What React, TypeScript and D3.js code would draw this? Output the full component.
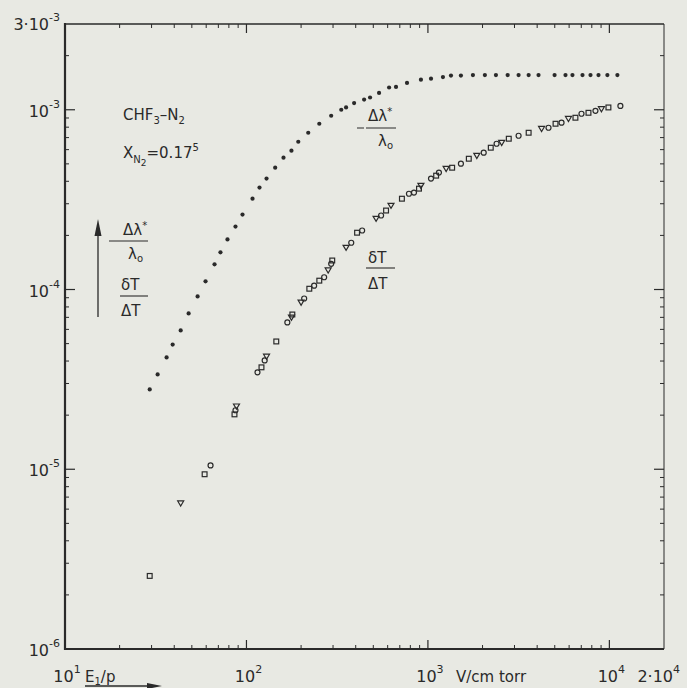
import React from "react";
import * as d3 from "d3";

const W = 687;
const H = 688;

// -Δλ*/λ0 series (filled dots)
const lamX = [29.3, 32.4, 36.3, 39.2, 43.4, 48.0, 53.8, 59.5, 66.7, 71.9, 78.6, 87.0, 95.1, 108, 118, 129, 144, 160, 177, 193, 219, 252, 293, 333, 354, 392, 445, 480, 538, 611, 667, 767, 915, 1040, 1210, 1340, 1520, 1770, 2060, 2370, 2750, 3160, 3590, 4070, 4990, 5730, 6260, 7110, 7870, 8710, 9750, 11070];
const lamY = [2.78e-5, 3.37e-5, 4.19e-5, 4.94e-5, 5.92e-5, 7.36e-5, 9.15e-5, 1.11e-4, 1.38e-4, 1.61e-4, 1.9e-4, 2.24e-4, 2.61e-4, 3.2e-4, 3.69e-4, 4.14e-4, 4.76e-4, 5.41e-4, 5.92e-4, 6.64e-4, 7.45e-4, 8.36e-4, 9.26e-4, 1.0e-3, 1.03e-3, 1.09e-3, 1.14e-3, 1.17e-3, 1.24e-3, 1.33e-3, 1.34e-3, 1.41e-3, 1.47e-3, 1.49e-3, 1.52e-3, 1.55e-3, 1.55e-3, 1.56e-3, 1.56e-3, 1.56e-3, 1.56e-3, 1.56e-3, 1.56e-3, 1.56e-3, 1.56e-3, 1.56e-3, 1.56e-3, 1.56e-3, 1.56e-3, 1.56e-3, 1.56e-3, 1.56e-3];

// δT/ΔT series (open symbols: s square, c circle, t triangle)
const dtX = [29.3, 43.4, 58.8, 63.4, 85.9, 87.0, 88.1, 115, 121, 126, 129, 146, 168, 177, 179, 200, 208, 222, 236, 252, 268, 282, 293, 297, 354, 378, 407, 434, 518, 552, 588, 626, 719, 786, 838, 893, 915, 1040, 1110, 1150, 1260, 1360, 1520, 1680, 1860, 2030, 2220, 2390, 2550, 2790, 3160, 3590, 4230, 4620, 5050, 5450, 5950, 6500, 7020, 7670, 8380, 9040, 9880, 11500];
const dtY = [2.55e-6, 6.47e-6, 9.38e-6, 1.05e-5, 2.02e-5, 2.13e-5, 2.24e-5, 3.46e-5, 3.69e-5, 4.03e-5, 4.24e-5, 5.14e-5, 6.56e-5, 6.99e-5, 7.26e-5, 8.47e-5, 8.91e-5, 1.01e-4, 1.05e-4, 1.12e-4, 1.17e-4, 1.28e-4, 1.39e-4, 1.45e-4, 1.71e-4, 1.82e-4, 2.07e-4, 2.13e-4, 2.48e-4, 2.58e-4, 2.75e-4, 2.93e-4, 3.2e-4, 3.41e-4, 3.46e-4, 3.64e-4, 3.78e-4, 4.14e-4, 4.3e-4, 4.47e-4, 4.7e-4, 4.76e-4, 5.01e-4, 5.34e-4, 5.55e-4, 5.77e-4, 6.15e-4, 6.47e-4, 6.56e-4, 6.9e-4, 7.17e-4, 7.45e-4, 7.84e-4, 7.94e-4, 8.36e-4, 8.47e-4, 8.91e-4, 9.03e-4, 9.5e-4, 9.62e-4, 9.87e-4, 1.01e-3, 1.03e-3, 1.05e-3];
const dtShape = "stscsctcsctsctstcscsctcstcsctcstsccstcsctscstcsctscstcsctscsctsc";

const xMajor = [10, 100, 1000, 10000];
const xMajorExp = ["1", "2", "3", "4"];
const yMajor = [1e-6, 1e-5, 1e-4, 1e-3];
const yMajorExp = ["-6", "-5", "-4", "-3"];

const ink = "#2a2a2a";
const font = "'DejaVu Sans', sans-serif";

const x = d3.scaleLog().domain([10, 2e4]).range([65, 664]);
const y = d3.scaleLog().domain([1e-6, 3e-3]).range([649, 24]);

function minorTicks(lo: number, hi: number) {
  const out: number[] = [];
  for (let d = lo; d < hi; d *= 10) {
    for (let k = 2; k <= 9; k++) if (d * k < hi) out.push(d * k);
  }
  return out;
}

const Marker = ({ cx, cy, s }: { cx: number; cy: number; s: string }) => {
  if (s === "c") return <circle cx={cx} cy={cy} r={2.5} fill="none" stroke={ink} strokeWidth={1.2} />;
  if (s === "t")
    return (
      <path
        d={`M${cx - 3},${cy - 2.3}L${cx + 3},${cy - 2.3}L${cx},${cy + 2.8}Z`}
        fill="none"
        stroke={ink}
        strokeWidth={1.2}
      />
    );
  return <rect x={cx - 2.4} y={cy - 2.4} width={4.8} height={4.8} fill="none" stroke={ink} strokeWidth={1.2} />;
};

export default function App() {
  const [x0, x1] = x.range();
  const [y0, y1] = y.range();
  const xMinor = minorTicks(10, 2e4);
  const yMinor = minorTicks(1e-6, 3e-3);

  return (
    <svg
      width={W}
      height={H}
      style={{ position: "absolute", left: 0, top: 0, background: "#e8e9e3" }}
      fontFamily={font}
      fill={ink}
    >
      <rect width={W} height={H} fill="#e8e9e3" />

      {/* frame */}
      <line x1={x0} x2={x0} y1={y1 - 1} y2={y0 + 1} stroke={ink} strokeWidth={2.2} />
      <line x1={x0} x2={x1} y1={y0} y2={y0} stroke={ink} strokeWidth={1.8} />
      <line x1={x0} x2={x1} y1={y1} y2={y1} stroke={ink} strokeWidth={1.6} />
      <line x1={x1} x2={x1} y1={y1} y2={y0} stroke={ink} strokeWidth={1} />

      {/* x ticks bottom and top */}
      {xMinor.map((v, i) => (
        <g key={"xm" + i} stroke={ink} strokeWidth={1}>
          <line x1={x(v)} x2={x(v)} y1={y0} y2={y0 - 4} />
          <line x1={x(v)} x2={x(v)} y1={y1} y2={y1 + 4} />
        </g>
      ))}
      {xMajor.map((v, i) => (
        <g key={"xM" + i} stroke={ink} strokeWidth={1.2}>
          <line x1={x(v)} x2={x(v)} y1={y0} y2={y0 - 9} />
          <line x1={x(v)} x2={x(v)} y1={y1} y2={y1 + 9} />
        </g>
      ))}

      {/* y ticks left and right */}
      {yMinor.map((v, i) => (
        <g key={"ym" + i} stroke={ink} strokeWidth={1}>
          <line x1={x0} x2={x0 + 4} y1={y(v)} y2={y(v)} />
          <line x1={x1} x2={x1 - 4} y1={y(v)} y2={y(v)} />
        </g>
      ))}
      {yMajor.map((v, i) => (
        <g key={"yM" + i} stroke={ink} strokeWidth={1.2}>
          <line x1={x0} x2={x0 + 10} y1={y(v)} y2={y(v)} />
          <line x1={x1} x2={x1 - 10} y1={y(v)} y2={y(v)} />
        </g>
      ))}

      {/* x tick labels */}
      {xMajor.map((v, i) => (
        <text key={"xl" + i} x={x(v) + 2} y={682} fontSize={16} textAnchor="middle">
          10
          <tspan fontSize={11} dy={-9}>
            {xMajorExp[i]}
          </tspan>
        </text>
      ))}
      <text x={680} y={682} fontSize={16} textAnchor="end">
        2·10
        <tspan fontSize={11} dy={-9}>
          4
        </tspan>
      </text>

      {/* y tick labels */}
      {yMajor.map((v, i) => (
        <text key={"yl" + i} x={60} y={y(v) + 7} fontSize={16} textAnchor="end">
          10
          <tspan fontSize={11} dy={-9}>
            {yMajorExp[i]}
          </tspan>
        </text>
      ))}
      <text x={60} y={y(3e-3) + 6} fontSize={16} textAnchor="end">
        3·10
        <tspan fontSize={11} dy={-9}>
          -3
        </tspan>
      </text>

      {/* axis titles */}
      <text x={85} y={682} fontSize={15}>
        E<tspan fontSize={10} dy={3}>1</tspan>
        <tspan dy={-3}>/p</tspan>
      </text>
      <line x1={85} x2={150} y1={686} y2={686} stroke={ink} strokeWidth={1.3} />
      <path d="M147,683 L162,686 L147,689 Z" fill={ink} />
      <text x={456} y={682} fontSize={15}>
        V/cm torr
      </text>

      {/* composition label */}
      <text x={123} y={120} fontSize={15}>
        CHF<tspan fontSize={10} dy={4}>3</tspan>
        <tspan dy={-4}>–N</tspan>
        <tspan fontSize={10} dy={4}>2</tspan>
      </text>
      <text x={123} y={158} fontSize={15}>
        X<tspan fontSize={10} dy={5}>N</tspan>
        <tspan fontSize={9} dy={3}>2</tspan>
        <tspan dy={-8}>=0.17</tspan>
        <tspan fontSize={10} dy={-7}>5</tspan>
      </text>

      {/* left ordinate legend */}
      <line x1={98} x2={98} y1={232} y2={317} stroke={ink} strokeWidth={1.3} />
      <path d="M94.5,236 L98,219 L101.5,236 Z" fill={ink} />
      <text x={123} y={235} fontSize={15}>
        Δλ<tspan fontSize={10} dy={-6}>*</tspan>
      </text>
      <line x1={109} x2={148} y1={241} y2={241} stroke={ink} strokeWidth={1.1} />
      <text x={128} y={259} fontSize={15}>
        λ<tspan fontSize={10} dy={3}>o</tspan>
      </text>
      <text x={121} y={290} fontSize={15}>
        δT
      </text>
      <line x1={120} x2={148} y1={296} y2={296} stroke={ink} strokeWidth={1.1} />
      <text x={121} y={316} fontSize={15}>
        ΔT
      </text>

      {/* series annotations */}
      <line x1={357} x2={364} y1={128} y2={128} stroke={ink} strokeWidth={1} />
      <text x={368} y={121} fontSize={15}>
        Δλ<tspan fontSize={10} dy={-6}>*</tspan>
      </text>
      <line x1={366} x2={396} y1={128} y2={128} stroke={ink} strokeWidth={1} />
      <text x={378} y={146} fontSize={15}>
        λ<tspan fontSize={10} dy={3}>o</tspan>
      </text>
      <text x={368} y={263} fontSize={15}>
        δT
      </text>
      <line x1={366} x2={395} y1={268} y2={268} stroke={ink} strokeWidth={1.1} />
      <text x={368} y={289} fontSize={15}>
        ΔT
      </text>

      {/* data */}
      {lamX.map((v, i) => (
        <circle key={"l" + i} cx={x(v)} cy={y(lamY[i])} r={2.1} fill={ink} />
      ))}
      {dtX.map((v, i) => (
        <Marker key={"d" + i} cx={x(v)} cy={y(dtY[i])} s={dtShape[i] || "s"} />
      ))}
    </svg>
  );
}
